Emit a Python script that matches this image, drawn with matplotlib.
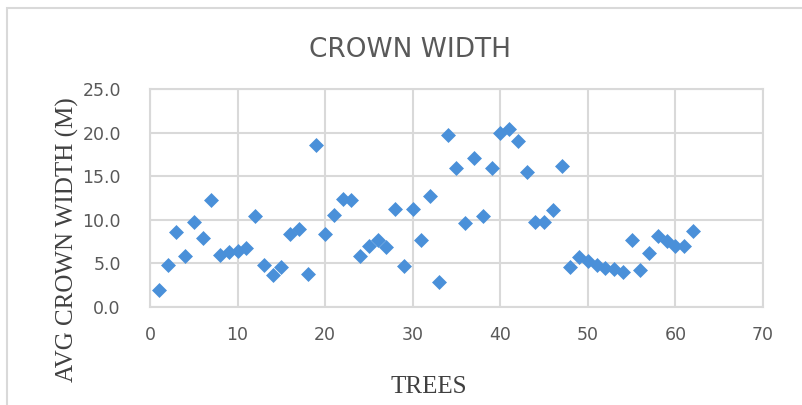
import matplotlib.pyplot as plt
from matplotlib.patches import Rectangle

# tree number vs average crown width (m)
trees = list(range(1, 63))
crown_width = [
    1.9, 4.8, 8.6, 5.8, 9.7, 7.9, 12.2, 5.9, 6.3, 6.4,
    6.7, 10.4, 4.8, 3.6, 4.6, 8.3, 8.9, 3.7, 18.6, 8.3,
    10.5, 12.4, 12.2, 5.8, 7.0, 7.7, 6.8, 11.2, 4.7, 11.2,
    7.7, 12.7, 2.8, 19.7, 15.9, 9.6, 17.1, 10.4, 15.9, 19.9,
    20.4, 19.0, 15.5, 9.7, 9.7, 11.1, 16.2, 4.6, 5.7, 5.2,
    4.8, 4.5, 4.3, 4.0, 7.7, 4.2, 6.2, 8.1, 7.5, 7.0,
    7.0, 8.7,
]
x_ticks = [0, 10, 20, 30, 40, 50, 60, 70]
y_ticks = [0, 5, 10, 15, 20, 25]

fig = plt.figure(figsize=(8.02, 4.05), dpi=100)
ax = fig.add_axes([150 / 802, 1 - 306.7 / 405, 613 / 802, 217.7 / 405])

# chart frame (light grey border round the chart area)
fig.patches.append(Rectangle((7 / 802, -0.1), 1.0, 1 - 8 / 405 + 0.1,
                             transform=fig.transFigure, fill=False,
                             edgecolor='#d9d9d9', linewidth=1.5))

ax.scatter(trees, crown_width, marker='D', s=58, color='#4A90D9',
           linewidths=0, zorder=3)

ax.set_xlim(0, 70)
ax.set_ylim(0, 25)
ax.set_xticks(x_ticks)
ax.set_yticks(y_ticks)
ax.set_yticklabels(['%.1f' % v for v in y_ticks])
ax.grid(True, color='#d9d9d9', linewidth=1.5)
ax.set_axisbelow(True)
for s in ax.spines.values():
    s.set_color('#d9d9d9')
    s.set_linewidth(1.5)
ax.tick_params(length=0, labelsize=12.5, labelcolor='#595959')
ax.tick_params(axis='x', pad=14)
ax.tick_params(axis='y', pad=21)

fig.text(410 / 802, 1 - 50 / 405, 'CROWN WIDTH', ha='center', va='center',
         fontsize=19, color='#595959')
fig.text(67 / 802, 1 - 240 / 405, 'AVG CROWN WIDTH (M)', rotation=90,
         ha='center', va='center', fontsize=18, color='#404040',
         family='Liberation Serif')
fig.text(429 / 802, 1 - 387 / 405, 'TREES', ha='center', va='center',
         fontsize=18, color='#404040', family='Liberation Serif')

fig.savefig('out.png', dpi=100)
